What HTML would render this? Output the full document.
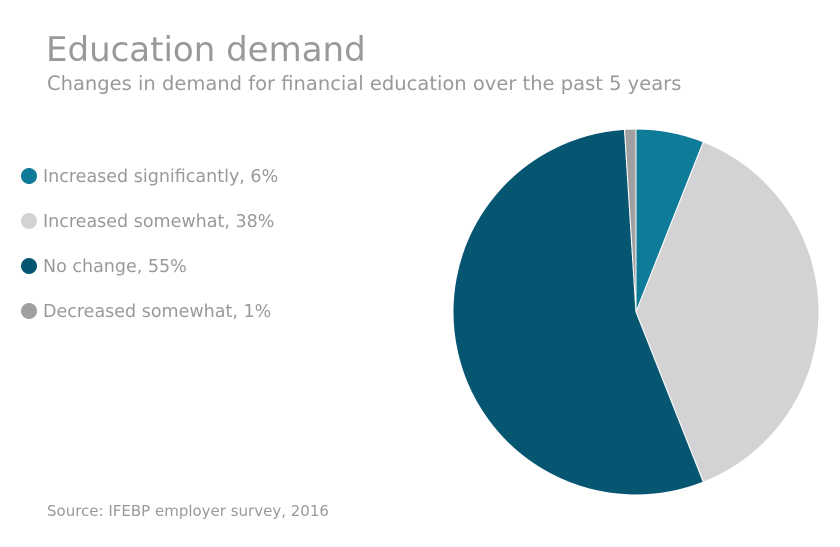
<!DOCTYPE html>
<html><head><meta charset="utf-8"><style>
body{margin:0;background:#fff;font-family:"DejaVu Sans","Liberation Sans",sans-serif;}
#wrap{position:relative;width:840px;height:547px;overflow:hidden;}
.t{position:absolute;color:#999;white-space:nowrap;}
.leg{position:absolute;left:21px;font-size:17.5px;color:#999;white-space:nowrap;}
.dot{display:inline-block;width:16px;height:16px;border-radius:50%;vertical-align:-2px;margin-right:6px;}
</style></head><body>
<div id="wrap">
<div class="t" style="left:46px;top:30px;font-size:34px;">Education demand</div>
<div class="t" style="left:47px;top:72px;font-size:19.5px;">Changes in demand for financial education over the past 5 years</div>
<div id="legend"></div>
<div class="t" style="left:47px;top:502px;font-size:15px;">Source: IFEBP employer survey, 2016</div>
<svg id="pie" width="840" height="547" style="position:absolute;left:0;top:0"></svg>
</div>
<script>
const categories=["Increased significantly","Increased somewhat","No change","Decreased somewhat"];
const values=[6,38,55,1];
const colors=["#0e7b98","#d3d2d4","#065672","#a0a0a0"];
const cx=636,cy=312,r=183;
const svg=document.getElementById('pie');
const total=values.reduce((a,b)=>a+b,0);
let a0=0;
values.forEach((v,i)=>{
  const a1=a0+v/total*2*Math.PI;
  const x0=cx+r*Math.sin(a0),y0=cy-r*Math.cos(a0);
  const x1=cx+r*Math.sin(a1),y1=cy-r*Math.cos(a1);
  const p=document.createElementNS('http://www.w3.org/2000/svg','path');
  p.setAttribute('d',`M${cx},${cy}L${x0},${y0}A${r},${r} 0 ${a1-a0>Math.PI?1:0} 1 ${x1},${y1}Z`);
  p.setAttribute('fill',colors[i]);
  p.setAttribute('stroke','#fff');p.setAttribute('stroke-width','1');
  
  
  svg.appendChild(p);
  a0=a1;
});
const leg=document.getElementById('legend');
categories.forEach((c,i)=>{
  const d=document.createElement('div');
  d.className='leg';d.style.top=(167+i*45)+'px';
  
  
  d.innerHTML=`<span class="dot" style="background:${colors[i]}"></span>${c}, ${values[i]}%`;
  leg.appendChild(d);
});
</script>
</body></html>
